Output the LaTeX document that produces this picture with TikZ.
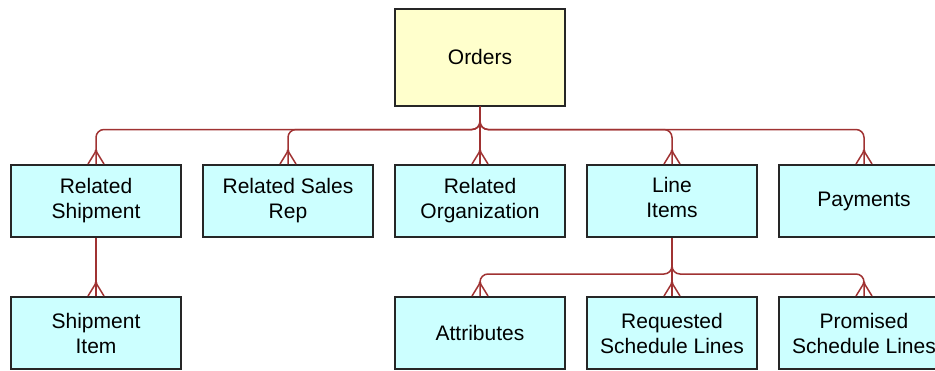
\documentclass[tikz,border=0pt]{standalone}
\usepackage{fontspec}
\setmainfont{Liberation Sans}
\definecolor{linkred}{RGB}{160,50,50}
\definecolor{orderfill}{RGB}{255,255,204}
\definecolor{entfill}{RGB}{204,255,255}
\begin{document}
\begin{tikzpicture}[x=0.5pt, y=0.5pt,
every node/.style={font=\fontsize{10.5}{12.5}\selectfont},
parent/.style={rectangle, draw=black!85, fill=orderfill, line width=1pt, minimum width=85pt, minimum height=48.5pt, inner sep=0pt},
entity/.style={rectangle, draw=black!85, fill=entfill, line width=1pt, minimum width=85pt, minimum height=36pt, inner sep=0pt, align=center},
link/.style={draw=linkred, line width=0.75pt, rounded corners=4pt},
edge from parent/.style={link},
level 1/.style={sibling distance=96pt, level distance=72pt,
	edge from parent path={(\tikzparentnode.south) -- ++(0,-11.5pt) -| (\tikzchildnode.north)}},
level 2/.style={sibling distance=96pt, level distance=66pt,
	edge from parent path={(\tikzparentnode.south) -- ++(0,-18pt) -| (\tikzchildnode.north)}},
]
\useasboundingbox (0,0) rectangle (935,-370);
\node[parent] (O) at (480,-57) {Orders}
	child {node [entity] (RS) {Related\\Shipment}
		child {node [entity] (SI) {Shipment\\Item}}
	}
	child {node [entity] (RR) {Related Sales\\Rep}}
	child {node [entity] (RO) {Related\\Organization}}
	child {node [entity] (LI) {Line\\Items\strut}
		child {node [entity] (AT) {Attributes}}
		child {node [entity] (RQ) {Requested\\Schedule Lines}}
		child {node [entity] (PR) {Promised\\Schedule Lines}}
	}
	child {node [entity] (PA) {Payments}};
% crow's feet on the many side
\foreach \e in {RS, RR, RO, LI, PA, SI, AT, RQ, PR} {
	\draw[link, rounded corners=0pt]
	([xshift=-4pt]\e.north) -- ([yshift=6.5pt]\e.north) -- ([xshift=4pt]\e.north);
	\fill[linkred] ([yshift=6.5pt]\e.north) circle (0.8pt);
}
\end{tikzpicture}
\end{document}
